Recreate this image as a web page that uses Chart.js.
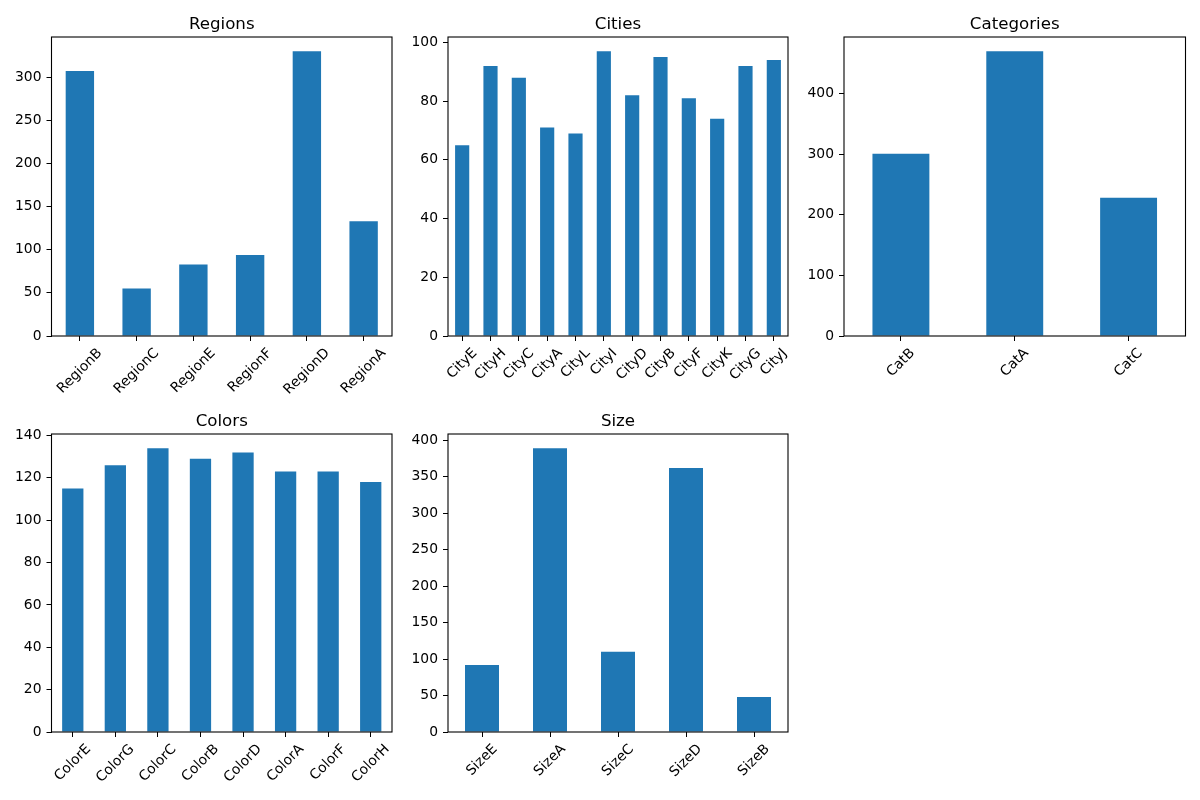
<!DOCTYPE html>
<html><head><meta charset="utf-8">
<script src="https://cdn.jsdelivr.net/npm/chart.js@4/dist/chart.umd.min.js"></script>
<style>
html,body{margin:0;padding:0;background:#fff;}
body{width:1200px;height:800px;position:relative;overflow:hidden;}
.cell{position:absolute;width:400px;height:400px;}
</style></head><body>
<div class="cell" style="left:0;top:0"><canvas id="k1"></canvas></div>
<div class="cell" style="left:400px;top:0"><canvas id="k2"></canvas></div>
<div class="cell" style="left:800px;top:0"><canvas id="k3"></canvas></div>
<div class="cell" style="left:0;top:400px"><canvas id="k4"></canvas></div>
<div class="cell" style="left:400px;top:400px"><canvas id="k5"></canvas></div>
<script>
// ---- data ----
const regionLabels = ['RegionB','RegionC','RegionE','RegionF','RegionD','RegionA'];
const regionValues = [307, 55, 83, 94, 330, 133];
const regionTicks = [0, 50, 100, 150, 200, 250, 300];

const cityLabels = ['CityE','CityH','CityC','CityA','CityL','CityI','CityD','CityB','CityF','CityK','CityG','CityJ'];
const cityValues = [65, 92, 88, 71, 69, 97, 82, 95, 81, 74, 92, 94];
const cityTicks = [0, 20, 40, 60, 80, 100];

const categoryLabels = ['CatB','CatA','CatC'];
const categoryValues = [301, 470, 228];
const categoryTicks = [0, 100, 200, 300, 400];

const colorLabels = ['ColorE','ColorG','ColorC','ColorB','ColorD','ColorA','ColorF','ColorH'];
const colorValues = [115, 126, 134, 129, 132, 123, 123, 118];
const colorTicks = [0, 20, 40, 60, 80, 100, 120, 140];

const sizeLabels = ['SizeE','SizeA','SizeC','SizeD','SizeB'];
const sizeValues = [92, 389, 110, 362, 48];
const sizeTicks = [0, 50, 100, 150, 200, 250, 300, 350, 400];

const titles = ['Regions','Cities','Categories','Colors','Size'];

// ---- layout (cell-relative plot boxes) ----
const FONT = '"DejaVu Sans", sans-serif';
const TICK_PX = 13.89, TITLE_PX = 16.67;

const framePlugin = {
  id: 'frameAndLabels',
  afterDraw(chart) {
    const {ctx, chartArea: a} = chart;
    ctx.save();
    ctx.strokeStyle = '#000';
    ctx.lineWidth = 1.1;
    ctx.strokeRect(a.left, a.top, a.right - a.left, a.bottom - a.top);
    const xs = chart.scales.x;
    ctx.font = TICK_PX + 'px ' + FONT;
    ctx.fillStyle = '#000';
    const y0 = a.bottom + 9.7;
    chart.data.labels.forEach((lab, i) => {
      const x = xs.getPixelForTick(i);
      const w = ctx.measureText(lab).width;
      const h = 15;
      const H = (w + h) * Math.SQRT1_2;
      ctx.save();
      ctx.translate(x, y0 + H / 2);
      ctx.rotate(-Math.PI / 4);
      ctx.textAlign = 'center';
      ctx.textBaseline = 'middle';
      ctx.fillText(lab, 0, 0);
      ctx.restore();
    });
    ctx.restore();
  }
};

function make(id, title, labels, values, ticks, box) {
  const [yW, padR, titleH, xH] = box;
  const maxV = Math.max(...values) * 1.05;
  new Chart(document.getElementById(id), {
    type: 'bar',
    data: {
      labels: labels,
      datasets: [{
        data: values,
        backgroundColor: '#1f77b4',
        borderWidth: 0,
        barPercentage: 0.5,
        categoryPercentage: 1.0
      }]
    },
    options: {
      responsive: true,
      maintainAspectRatio: false,
      animation: false,
      events: [],
      layout: {padding: {left: 0, right: padR, top: 0, bottom: 0}},
      plugins: {
        legend: {display: false},
        tooltip: {enabled: false},
        title: {
          display: true,
          fullSize: false,
          text: title,
          color: '#000',
          font: {family: FONT, size: TITLE_PX, weight: 'normal', lineHeight: 1.2},
          padding: {top: titleH - 22, bottom: 2}
        }
      },
      scales: {
        x: {
          type: 'category',
          offset: true,
          grid: {display: true, offset: false, drawOnChartArea: false, drawTicks: true, tickLength: 5, color: '#000', lineWidth: 1},
          border: {display: false},
          ticks: {display: false},
          afterFit(s) { s.height = xH; }
        },
        y: {
          min: 0,
          max: maxV,
          grid: {display: true, drawOnChartArea: false, drawTicks: true, tickLength: 5, color: '#000', lineWidth: 1},
          border: {display: false},
          ticks: {color: '#000', padding: 5, font: {family: FONT, size: TICK_PX}},
          afterBuildTicks(s) { s.ticks = ticks.map(v => ({value: v})); },
          afterFit(s) { s.width = yW; }
        }
      }
    },
    plugins: [framePlugin]
  });
}

make('k1', titles[0], regionLabels, regionValues, regionTicks, [51.5, 8, 37, 64]);
make('k2', titles[1], cityLabels, cityValues, cityTicks, [48, 12, 37, 64]);
make('k3', titles[2], categoryLabels, categoryValues, categoryTicks, [44, 14.5, 37, 64]);
make('k4', titles[3], colorLabels, colorValues, colorTicks, [51.5, 8, 34, 68]);
make('k5', titles[4], sizeLabels, sizeValues, sizeTicks, [48, 12, 34, 68]);
</script>
</body></html>
